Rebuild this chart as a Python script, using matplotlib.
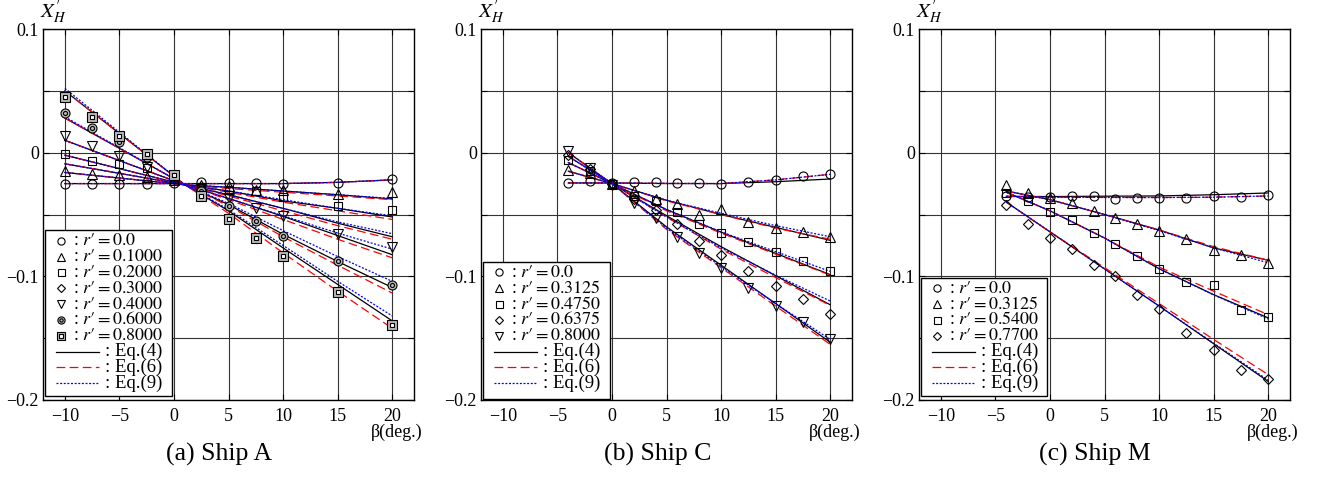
import matplotlib
matplotlib.use("Agg")
import matplotlib.pyplot as plt
from matplotlib.patches import Rectangle

plt.rcParams['font.family'] = ['Liberation Serif', 'DejaVu Serif']
plt.rcParams['mathtext.fontset'] = 'stix'
plt.rcParams['axes.unicode_minus'] = True

# ---------------- Ship A ----------------
rA_labels = ["0.0", "0.1000", "0.2000", "0.3000", "0.4000", "0.6000", "0.8000"]
betaA = [-10, -7.5, -5, -2.5, 0, 2.5, 5, 7.5, 10, 15, 20]
A_pt_r00 = [-0.025, -0.025, -0.025, -0.025, -0.0245, -0.024, -0.0245, -0.0245, -0.025, -0.0245, -0.021]
A_pt_r01 = [-0.015, -0.0173, -0.0183, -0.020, -0.022, -0.026, -0.027, -0.030, -0.030, -0.0334, -0.032]
A_pt_r02 = [-0.001, -0.0065, -0.0092, -0.012, -0.021, -0.028, -0.030, -0.031, -0.036, -0.0430, -0.0466]
A_pt_r04 = [0.0137, 0.005, -0.0024, -0.0116, -0.021, -0.029, -0.037, -0.0447, -0.0515, -0.0655, -0.0763]
A_pt_r06 = [0.032, 0.020, 0.0086, -0.0035, -0.019, -0.031, -0.043, -0.055, -0.0676, -0.0873, -0.107]
A_pt_r08 = [0.045, 0.0289, 0.0132, -0.0008, -0.018, -0.035, -0.0534, -0.069, -0.0838, -0.1129, -0.1396]

betaA_fit = [-10, -5, 1, 5, 10, 15, 20]
A_eq4_r00 = [-0.025, -0.025, -0.025, -0.025, -0.025, -0.024, -0.022]
A_eq4_r01 = [-0.016, -0.0205, -0.026, -0.028, -0.031, -0.034, -0.0375]
A_eq4_r02 = [-0.009, -0.0167, -0.026, -0.031, -0.039, -0.045, -0.052]
A_eq4_r03 = [-0.002, -0.0129, -0.026, -0.034, -0.045, -0.057, -0.068]
A_eq4_r04 = [0.010, -0.0064, -0.026, -0.037, -0.0515, -0.067, -0.0825]
A_eq4_r06 = [0.028, 0.0035, -0.026, -0.042, -0.066, -0.088, -0.109]
A_eq4_r08 = [0.050, 0.0155, -0.026, -0.047, -0.077, -0.1065, -0.136]
A_eq6_r00 = [-0.025, -0.025, -0.025, -0.025, -0.025, -0.024, -0.022]
A_eq6_r01 = [-0.016, -0.0205, -0.026, -0.029, -0.032, -0.035, -0.038]
A_eq6_r02 = [-0.009, -0.0167, -0.026, -0.032, -0.040, -0.047, -0.054]
A_eq6_r03 = [-0.002, -0.0129, -0.026, -0.035, -0.047, -0.059, -0.070]
A_eq6_r04 = [0.010, -0.0064, -0.026, -0.038, -0.054, -0.070, -0.085]
A_eq6_r06 = [0.028, 0.0035, -0.026, -0.043, -0.068, -0.091, -0.1135]
A_eq6_r08 = [0.050, 0.0155, -0.026, -0.049, -0.081, -0.112, -0.142]
A_eq9_r00 = [-0.025, -0.025, -0.025, -0.025, -0.025, -0.024, -0.022]
A_eq9_r01 = [-0.016, -0.0205, -0.026, -0.028, -0.031, -0.034, -0.037]
A_eq9_r02 = [-0.009, -0.0167, -0.026, -0.031, -0.038, -0.045, -0.051]
A_eq9_r03 = [-0.002, -0.0129, -0.026, -0.034, -0.045, -0.056, -0.0655]
A_eq9_r04 = [0.010, -0.0064, -0.026, -0.037, -0.051, -0.065, -0.078]
A_eq9_r06 = [0.029, 0.0040, -0.026, -0.041, -0.063, -0.084, -0.104]
A_eq9_r08 = [0.052, 0.0165, -0.026, -0.046, -0.075, -0.104, -0.132]

# ---------------- Ship C ----------------
rC_labels = ["0.0", "0.3125", "0.4750", "0.6375", "0.8000"]
betaC = [-4, -2, 0, 2, 4, 6, 8, 10, 12.5, 15, 17.5, 20]
C_pt_r0 = [-0.0245, -0.0232, -0.0245, -0.024, -0.024, -0.0248, -0.0245, -0.025, -0.024, -0.0218, -0.019, -0.0172]
C_pt_r1 = [-0.0143, -0.0164, -0.025, -0.031, -0.0372, -0.0412, -0.050, -0.0455, -0.0563, -0.061, -0.0644, -0.0685]
C_pt_r2 = [-0.0060, -0.0150, -0.025, -0.0353, -0.0388, -0.0477, -0.0577, -0.065, -0.0722, -0.0803, -0.0879, -0.0954]
C_pt_r3 = [-0.0016, -0.0135, -0.025, -0.0375, -0.0466, -0.0578, -0.0711, -0.083, -0.096, -0.108, -0.1183, -0.1304]
C_pt_r4 = [0.0015, -0.0124, -0.026, -0.041, -0.053, -0.068, -0.0811, -0.0935, -0.1094, -0.1242, -0.137, -0.151]

betaC_fit = [-4, 0, 5, 10, 15, 20]
C_eq4_r0 = [-0.0245, -0.0245, -0.025, -0.025, -0.0235, -0.0213]
C_eq4_r1 = [-0.015, -0.025, -0.0385, -0.050, -0.0604, -0.0709]
C_eq4_r2 = [-0.008, -0.025, -0.046, -0.0643, -0.0814, -0.0986]
C_eq4_r3 = [-0.003, -0.025, -0.051, -0.076, -0.0995, -0.123]
C_eq4_r4 = [0.000, -0.025, -0.060, -0.091, -0.122, -0.1533]
C_eq6_r0 = [-0.0245, -0.0245, -0.0248, -0.025, -0.022, -0.0175]
C_eq6_r1 = [-0.015, -0.025, -0.039, -0.050, -0.061, -0.070]
C_eq6_r2 = [-0.008, -0.025, -0.047, -0.065, -0.082, -0.099]
C_eq6_r3 = [-0.003, -0.025, -0.052, -0.078, -0.101, -0.1235]
C_eq6_r4 = [0.000, -0.025, -0.062, -0.093, -0.124, -0.155]
C_eq9_r0 = [-0.0245, -0.0245, -0.0248, -0.025, -0.022, -0.0175]
C_eq9_r1 = [-0.015, -0.025, -0.0385, -0.049, -0.059, -0.068]
C_eq9_r2 = [-0.008, -0.025, -0.046, -0.064, -0.080, -0.096]
C_eq9_r3 = [-0.003, -0.025, -0.052, -0.077, -0.099, -0.120]
C_eq9_r4 = [0.000, -0.025, -0.061, -0.092, -0.122, -0.151]

# ---------------- Ship M ----------------
rM_labels = ["0.0", "0.3125", "0.5400", "0.7700"]
betaM = [-4, -2, 0, 2, 4, 6, 8, 10, 12.5, 15, 17.5, 20]
M_pt_r0 = [-0.0353, -0.0358, -0.0358, -0.0353, -0.0353, -0.0375, -0.037, -0.0365, -0.0365, -0.0353, -0.0358, -0.0345]
M_pt_r1 = [-0.026, -0.0326, -0.0366, -0.0403, -0.047, -0.0528, -0.058, -0.0636, -0.070, -0.079, -0.0827, -0.0892]
M_pt_r2 = [-0.0326, -0.0394, -0.048, -0.0547, -0.065, -0.0736, -0.0833, -0.0938, -0.1043, -0.1067, -0.1275, -0.1331]
M_pt_r3 = [-0.042, -0.0577, -0.069, -0.0781, -0.0912, -0.100, -0.1148, -0.1264, -0.1458, -0.1592, -0.1754, -0.183]

betaM_fit = [-4, 0, 5, 10, 15, 20]
M_eq4_r0 = [-0.0353, -0.0355, -0.0352, -0.035, -0.034, -0.0326]
M_eq4_r1 = [-0.031, -0.038, -0.050, -0.0625, -0.0770, -0.087]
M_eq4_r2 = [-0.032, -0.047, -0.069, -0.0938, -0.1148, -0.1336]
M_eq4_r3 = [-0.040, -0.064, -0.094, -0.124, -0.1545, -0.185]
M_eq6_r0 = [-0.0353, -0.036, -0.0362, -0.0363, -0.036, -0.035]
M_eq6_r1 = [-0.031, -0.038, -0.050, -0.0625, -0.076, -0.087]
M_eq6_r2 = [-0.032, -0.047, -0.069, -0.0925, -0.112, -0.131]
M_eq6_r3 = [-0.040, -0.064, -0.093, -0.122, -0.151, -0.1795]
M_eq9_r0 = [-0.0353, -0.036, -0.0362, -0.0363, -0.036, -0.035]
M_eq9_r1 = [-0.031, -0.038, -0.050, -0.063, -0.077, -0.089]
M_eq9_r2 = [-0.032, -0.047, -0.069, -0.094, -0.115, -0.1345]
M_eq9_r3 = [-0.040, -0.064, -0.094, -0.124, -0.154, -0.184]

xticks = [-10, -5, 0, 5, 10, 15, 20]
yticks_major = [-0.2, -0.1, 0.0, 0.1]
ytick_labels = ["\u22120.2", "\u22120.1", "0", "0.1"]
yticks_minor = [-0.15, -0.05, 0.05]
eq_labels = ["Eq.(4)", "Eq.(6)", "Eq.(9)"]
captions = ["(a) Ship A", "(b) Ship C", "(c) Ship M"]

# ---------------- styles ----------------
EQ_STYLE = [
    dict(color='black', lw=0.9, ls='-'),
    dict(color='#ff0000', lw=0.9, ls=(0, (7, 3.5))),
    dict(color='#0000ff', lw=0.9, ls=(0, (1.6, 1.3))),
]
MK = {
    'o': dict(marker='o', ms=6.5),
    '^': dict(marker='^', ms=7.0),
    's': dict(marker='s', ms=6.3),
    'D': dict(marker='D', ms=5.5),
    'v': dict(marker='v', ms=7.0),
    'oo': dict(marker='o', ms=6.5),
    'ss': dict(marker='s', ms=6.5),
}


def draw_marker(ax, x, y, kind, scale=1.0, **kw):
    st = MK[kind]
    ms = st['ms'] * scale
    if kind in ('oo', 'ss'):
        m = st['marker']
        ax.plot(x, y, ls='none', marker=m, ms=ms, mfc='0.72', mec='k', mew=0.8, **kw)
        ax.plot(x, y, ls='none', marker=m, ms=ms * 0.45, mfc='white' if m == 's' else 'none',
                mec='k', mew=0.8, **kw)
    else:
        ax.plot(x, y, ls='none', marker=st['marker'], ms=ms, mfc='none', mec='k', mew=0.8, **kw)


def setup_axes(ax, caption):
    ax.set_xlim(-12, 22)
    ax.set_ylim(-0.2, 0.1)
    ax.set_xticks(xticks)
    ax.set_xticklabels([("\u2212%d" % -t) if t < 0 else "%d" % t for t in xticks])
    ax.set_yticks(yticks_major)
    ax.set_yticklabels(ytick_labels)
    ax.set_yticks(yticks_minor, minor=True)
    ax.grid(True, which='both', color='0.2', lw=0.8, zorder=1)
    ax.set_axisbelow(True)
    ax.tick_params(which='both', direction='in', length=4, width=0.8, top=True, right=True,
                   labelsize=13)
    ax.tick_params(axis='x', pad=6)
    ax.tick_params(axis='y', pad=3)
    for s in ax.spines.values():
        s.set_linewidth(1.0)
    ax.text(-0.008, 1.012, r"$X^{\prime}_{H}$", transform=ax.transAxes, ha='left', va='bottom',
            fontsize=15)
    ax.text(1.022, -0.065, "\u03b2(deg.)", transform=ax.transAxes, ha='right', va='top', fontsize=13)
    ax.text(0.475, -0.115, caption, transform=ax.transAxes, ha='center', va='top', fontsize=18.5)


def draw_legend(ax, kinds, labels, box):
    x0, y0, x1, y1 = box
    ax.add_patch(Rectangle((x0, y0), x1 - x0, y1 - y0, transform=ax.transAxes, facecolor='white',
                           edgecolor='black', lw=1.0, zorder=20, clip_on=False))
    n = len(kinds) + 3
    dy = 0.0427
    ytop = 0.045 + (n - 1) * dy
    for i, (k, lab) in enumerate(zip(kinds, labels)):
        yy = ytop - i * dy
        draw_marker(ax, [0.049], [yy], k, scale=0.8, transform=ax.transAxes, zorder=21, clip_on=False)
        ax.text(0.080, yy, ": $r\u2032 = %s$" % lab, transform=ax.transAxes, ha='left',
                va='center', fontsize=13, zorder=22)
    for j in range(3):
        yy = ytop - (len(kinds) + j) * dy
        ax.plot([0.036, 0.150], [yy, yy], transform=ax.transAxes, zorder=21, clip_on=False,
                **EQ_STYLE[j])
        ax.text(0.166, yy, ": " + eq_labels[j], transform=ax.transAxes, ha='left', va='center',
                fontsize=13.5, zorder=22)


fig = plt.figure(figsize=(13.17, 4.8), dpi=100)
W, H = 1317.0, 480.0
lefts = [43, 481, 919]
axes = [fig.add_axes([l / W, 80 / H, 371 / W, 371 / H]) for l in lefts]

# Panel A
ax = axes[0]
setup_axes(ax, captions[0])
curvesA = [
    (A_eq4_r00, A_eq6_r00, A_eq9_r00), (A_eq4_r01, A_eq6_r01, A_eq9_r01),
    (A_eq4_r02, A_eq6_r02, A_eq9_r02), (A_eq4_r03, A_eq6_r03, A_eq9_r03),
    (A_eq4_r04, A_eq6_r04, A_eq9_r04), (A_eq4_r06, A_eq6_r06, A_eq9_r06),
    (A_eq4_r08, A_eq6_r08, A_eq9_r08),
]
for trio in curvesA:
    for j, c in enumerate(trio):
        ax.plot(betaA_fit, c, zorder=3 + j, **EQ_STYLE[j])
for pts, k in zip([A_pt_r00, A_pt_r01, A_pt_r02, A_pt_r04, A_pt_r06, A_pt_r08],
                  ['o', '^', 's', 'v', 'oo', 'ss']):
    draw_marker(ax, betaA, pts, k, zorder=8)
draw_legend(ax, ['o', '^', 's', 'D', 'v', 'oo', 'ss'], rA_labels, (0.005, 0.011, 0.348, 0.458))

# Panel B (Ship C)
ax = axes[1]
setup_axes(ax, captions[1])
curvesC = [
    (C_eq4_r0, C_eq6_r0, C_eq9_r0), (C_eq4_r1, C_eq6_r1, C_eq9_r1),
    (C_eq4_r2, C_eq6_r2, C_eq9_r2), (C_eq4_r3, C_eq6_r3, C_eq9_r3),
    (C_eq4_r4, C_eq6_r4, C_eq9_r4),
]
for trio in curvesC:
    for j, c in enumerate(trio):
        ax.plot(betaC_fit, c, zorder=3 + j, **EQ_STYLE[j])
for pts, k in zip([C_pt_r0, C_pt_r1, C_pt_r2, C_pt_r3, C_pt_r4], ['o', '^', 's', 'D', 'v']):
    draw_marker(ax, betaC, pts, k, zorder=8)
draw_legend(ax, ['o', '^', 's', 'D', 'v'], rC_labels, (0.005, 0.003, 0.348, 0.372))

# Panel C (Ship M)
ax = axes[2]
setup_axes(ax, captions[2])
curvesM = [
    (M_eq4_r0, M_eq6_r0, M_eq9_r0), (M_eq4_r1, M_eq6_r1, M_eq9_r1),
    (M_eq4_r2, M_eq6_r2, M_eq9_r2), (M_eq4_r3, M_eq6_r3, M_eq9_r3),
]
for trio in curvesM:
    for j, c in enumerate(trio):
        ax.plot(betaM_fit, c, zorder=3 + j, **EQ_STYLE[j])
for pts, k in zip([M_pt_r0, M_pt_r1, M_pt_r2, M_pt_r3], ['o', '^', 's', 'D']):
    draw_marker(ax, betaM, pts, k, zorder=8)
draw_legend(ax, ['o', '^', 's', 'D'], rM_labels, (0.005, 0.011, 0.345, 0.329))

fig.savefig("out.png", dpi=100)
